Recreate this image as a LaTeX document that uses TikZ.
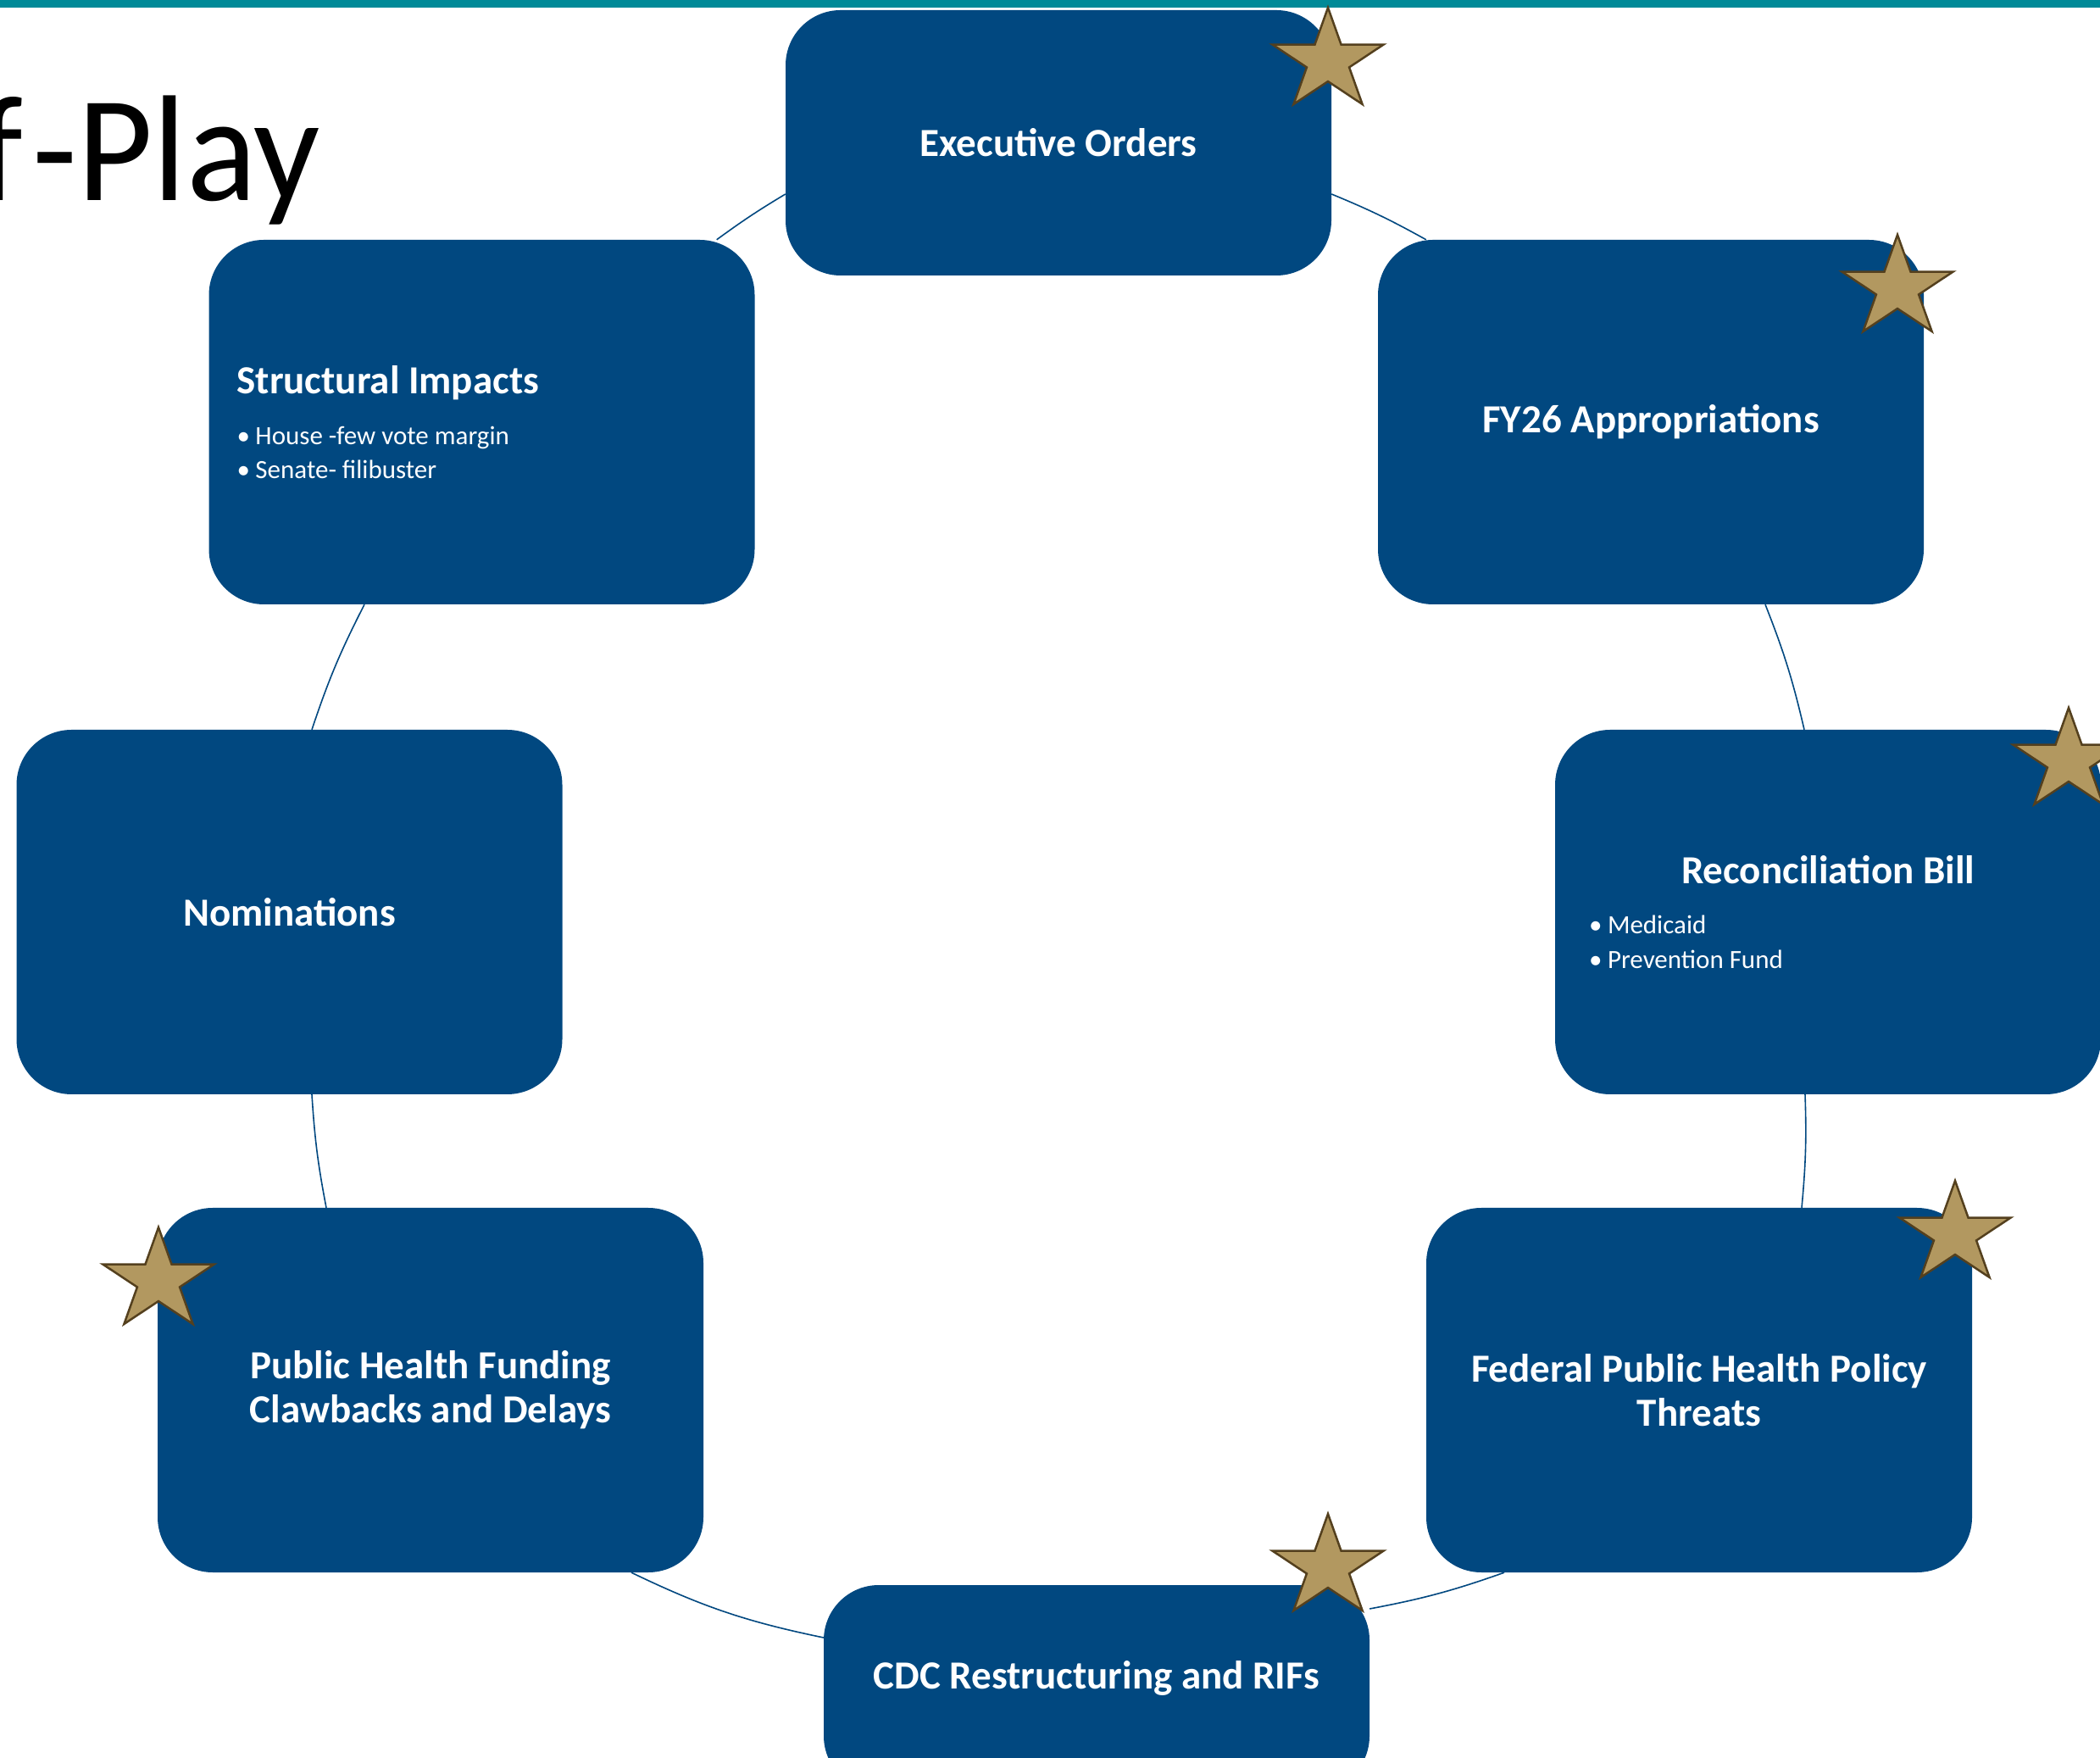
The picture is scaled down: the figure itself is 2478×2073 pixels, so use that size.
\documentclass[tikz,border=0pt]{standalone}
\usepackage{fontspec}
\usepackage{graphicx}
\setmainfont{Carlito}
\usetikzlibrary{calc}

\definecolor{boxblue}{RGB}{1,72,128}
\definecolor{startan}{RGB}{178,152,96}
\definecolor{starline}{RGB}{84,64,30}
\definecolor{barteal}{RGB}{0,138,152}

\newcommand{\cardtitle}{\fontsize{47}{52}\selectfont\bfseries}
\newcommand{\cardbullets}{\fontsize{31}{40}\selectfont\mdseries}
\newcommand{\bulletitem}[1]{\makebox[22pt][l]{\textbullet}#1\par}

\tikzset{
  card/.style={fill=boxblue, draw=none, rounded corners=65pt,
    minimum width=644pt, inner sep=0pt, text=white, font=\cardtitle, align=center},
  tallcard/.style={card, minimum height=430pt},
  shortcard/.style={card, minimum height=313pt},
  link/.style={draw=boxblue, line width=1.6pt},
  goldstar/.pic={
    \path[xscale=69, yscale=63, fill=startan, draw=starline,
          line width=2.5pt, line join=miter]
      (90:1) -- (126:0.382) -- (162:1) -- (198:0.382) -- (234:1)
      -- (270:0.382) -- (306:1) -- (342:0.382) -- (18:1) -- (54:0.382) -- cycle;
  }
}

\begin{document}
\begin{tikzpicture}[x=1pt, y=1pt]
  \useasboundingbox (0,0) rectangle (2478,2073);
  \clip (0,0) rectangle (2478,2073);
  \fill[white] (0,0) rectangle (2478,2073);

  % header band and slide title
  \fill[barteal] (0,2064) rectangle (2478,2073);
  \node[anchor=base east, inner sep=0pt, font=\fontsize{178}{178}\selectfont]
    (heading) at (378,1836) {\scalebox{0.97}[1]{f\kern12pt-Play}};

  % cycle cards
  \node[shortcard] (exec) at (1249,1904.5) {Executive Orders};
  \node[tallcard] (fy26) at (1948,1575) {FY26 Appropriations};
  \node[tallcard, text width=578pt, align=flush left, inner xsep=33pt] (struct) at (568.5,1575) {%
    {\cardtitle Structural Impacts\par}
    \vspace{20pt}
    {\cardbullets
     \bulletitem{House -few vote margin}
     \bulletitem{Senate- filibuster}}};
  \node[tallcard] (nom) at (341.5,997) {Nominations};
  \node[tallcard, text width=564pt, align=flush left, inner xsep=40pt] (recon) at (2157,997) {%
    {\centering\cardtitle Reconciliation Bill\par}
    \vspace{18pt}
    {\fontsize{31}{41}\selectfont\mdseries
     \bulletitem{Medicaid}
     \bulletitem{Prevention Fund}}};
  \node[tallcard] (pub) at (508,433) {Public Health Funding\\Clawbacks and Delays};
  \node[tallcard] (fed) at (2005,433) {Federal Public Health Policy\\Threats};
  \node[card, minimum height=243pt] (cdc) at (1294,81.5) {};
  \node[text=white, font=\cardtitle, inner sep=0pt] (cdctext)
    at ([yshift=12pt]cdc.center) {CDC Restructuring and RIFs};

  % connecting arcs around the cycle
  \draw[link] ([xshift=-45pt]struct.north east) to[bend left=2.6] ([yshift=-60.5pt]exec.west);
  \draw[link] ([yshift=-60.5pt]exec.east) to[bend left=3.3] ([xshift=57pt]fy26.north west);
  \draw[link] ([xshift=135pt]fy26.south) to[bend left=4.2] ([xshift=-28pt]recon.north);
  \draw[link] ([xshift=-27pt]recon.south) to[bend left=3.6] ([xshift=121pt]fed.north);
  \draw[link] ([xshift=-230pt]fed.south) to[bend left=4.4] ([yshift=93.5pt]cdc.east);
  \draw[link] ([yshift=59.5pt]cdc.west) to[bend left=7] ([xshift=237pt]pub.south);
  \draw[link] ([xshift=-123pt]pub.north) to[bend left=3.6] ([xshift=26.5pt]nom.south);
  \draw[link] ([xshift=26.5pt]nom.north) to[bend left=4.3] ([xshift=-138.5pt]struct.south);

  % priority stars
  \pic at (1567,2001) {goldstar};
  \pic at (2239,1733) {goldstar};
  \pic at (2441,1175) {goldstar};
  \pic at (2307,617) {goldstar};
  \pic at (1567,224) {goldstar};
  \pic at (187,562) {goldstar};
\end{tikzpicture}
\end{document}
